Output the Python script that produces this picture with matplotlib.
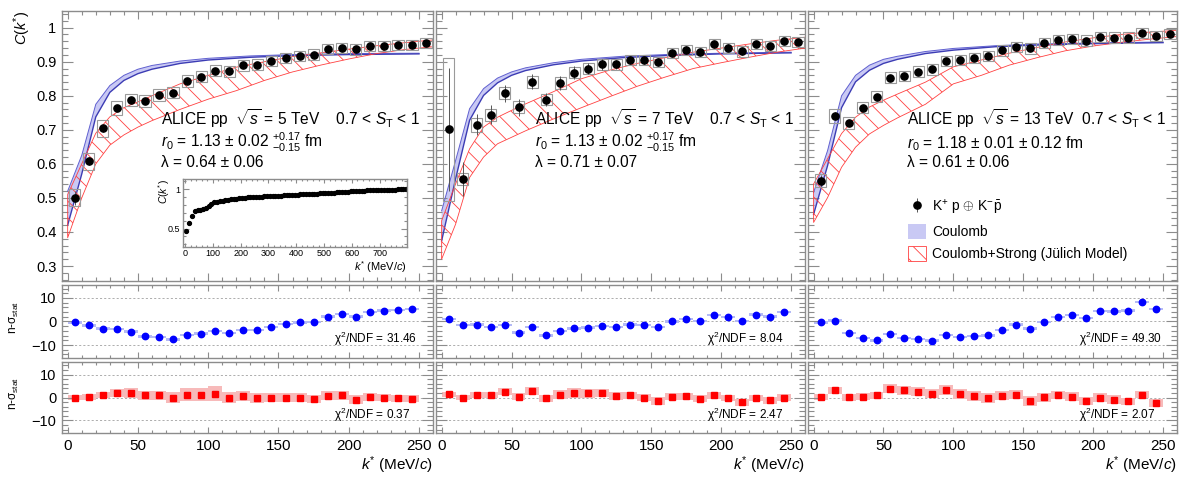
import numpy as np
import matplotlib
matplotlib.use('Agg')
import matplotlib.pyplot as plt
from matplotlib.ticker import MultipleLocator, FuncFormatter
from matplotlib.patches import Patch

plt.rcParams['font.family'] = ['Liberation Sans', 'DejaVu Sans']
plt.rcParams['mathtext.fontset'] = 'custom'
plt.rcParams['mathtext.rm'] = 'Liberation Sans'
plt.rcParams['mathtext.it'] = 'Liberation Sans:italic'
plt.rcParams['mathtext.bf'] = 'Liberation Sans:bold'
plt.rcParams['hatch.linewidth'] = 0.6

# bin centres, MeV/c
kstar = np.arange(5, 260, 10)       # 26 bins of C(k*)
kstar_res = kstar[:25]              # residuals stop at 245
kstar_inset = np.arange(5, 800, 10)

# measured correlation functions
cf_5tev = [0.500, 0.608, 0.705, 0.764, 0.787, 0.784, 0.803, 0.809, 0.843, 0.856, 0.874, 0.872, 0.889,
           0.891, 0.903, 0.912, 0.917, 0.921, 0.937, 0.941, 0.936, 0.946, 0.947, 0.949, 0.950, 0.954]
cf_7tev = [0.701, 0.556, 0.715, 0.744, 0.808, 0.766, 0.841, 0.789, 0.838, 0.868, 0.880, 0.892, 0.892,
           0.905, 0.905, 0.899, 0.925, 0.935, 0.928, 0.951, 0.941, 0.930, 0.951, 0.945, 0.960, 0.959]
cf_13tev = [0.551, 0.741, 0.720, 0.765, 0.797, 0.853, 0.858, 0.870, 0.878, 0.903, 0.904, 0.912, 0.917,
            0.933, 0.944, 0.939, 0.954, 0.963, 0.966, 0.962, 0.972, 0.971, 0.971, 0.984, 0.975, 0.981]

stat_5tev = [0.02, 0.012, 0.01, 0.008, 0.007, 0.007, 0.006, 0.006, 0.006, 0.005, 0.005, 0.005, 0.005,
             0.005, 0.004, 0.004, 0.004, 0.004, 0.004, 0.004, 0.004, 0.004, 0.004, 0.004, 0.004, 0.004]
stat_7tev = [0.18, 0.05, 0.03, 0.028, 0.025, 0.025, 0.022, 0.02, 0.02, 0.018, 0.016, 0.015, 0.014,
             0.013, 0.012, 0.012, 0.011, 0.011, 0.01, 0.01, 0.01, 0.01, 0.009, 0.009, 0.009, 0.009]
stat_13tev = [0.015, 0.01, 0.008, 0.007, 0.006, 0.006, 0.005, 0.005, 0.005, 0.004, 0.004, 0.004, 0.004,
              0.004, 0.004, 0.004, 0.003, 0.003, 0.003, 0.003, 0.003, 0.003, 0.003, 0.003, 0.003, 0.003]

syst_5tev = [0.025, 0.025, 0.025, 0.02, 0.018, 0.018, 0.017, 0.017, 0.017, 0.016, 0.016, 0.016, 0.016,
             0.016, 0.015, 0.015, 0.015, 0.015, 0.015, 0.015, 0.015, 0.015, 0.015, 0.015, 0.015, 0.015]
syst_7tev = [0.21, 0.017, 0.02, 0.018, 0.018, 0.018, 0.017, 0.017, 0.017, 0.016, 0.016, 0.016, 0.016,
             0.016, 0.015, 0.015, 0.015, 0.015, 0.015, 0.015, 0.015, 0.015, 0.015, 0.015, 0.015, 0.015]
syst_13tev = [0.02, 0.02, 0.018, 0.017, 0.016, 0.016, 0.016, 0.016, 0.016, 0.015, 0.015, 0.015, 0.015,
              0.015, 0.015, 0.015, 0.015, 0.015, 0.015, 0.015, 0.015, 0.015, 0.015, 0.015, 0.015, 0.015]

# Coulomb-only model band
coul_k = [0, 10, 20, 30, 40, 50, 60, 80, 100, 130, 160, 200, 250]
coul_hi_5 = [0.52, 0.625, 0.775, 0.83, 0.86, 0.878, 0.889, 0.902, 0.91, 0.917, 0.921, 0.924, 0.925]
coul_lo_5 = [0.42, 0.57, 0.738, 0.81, 0.845, 0.865, 0.878, 0.895, 0.905, 0.913, 0.918, 0.921, 0.923]
coul_hi_7 = [0.462, 0.61, 0.762, 0.821, 0.852, 0.87, 0.882, 0.897, 0.907, 0.916, 0.921, 0.925, 0.928]
coul_lo_7 = [0.374, 0.556, 0.728, 0.801, 0.838, 0.86, 0.874, 0.891, 0.902, 0.912, 0.918, 0.923, 0.926]
coul_hi_13 = [0.516, 0.639, 0.80, 0.86, 0.89, 0.907, 0.916, 0.93, 0.939, 0.947, 0.952, 0.955, 0.958]
coul_lo_13 = [0.452, 0.595, 0.765, 0.841, 0.875, 0.895, 0.907, 0.924, 0.934, 0.944, 0.949, 0.953, 0.956]

# Coulomb + strong (Julich) model band
strong_k = [0, 10, 20, 30, 40, 50, 60, 80, 100, 120, 140, 160, 180, 200, 220, 240, 260]
strong_hi_5 = [0.51, 0.60, 0.69, 0.738, 0.765, 0.782, 0.80, 0.835, 0.86, 0.884, 0.90, 0.915, 0.926,
               0.937, 0.947, 0.956, 0.964]
strong_lo_5 = [0.383, 0.50, 0.60, 0.655, 0.685, 0.708, 0.727, 0.76, 0.79, 0.815, 0.845, 0.87, 0.89,
               0.908, 0.924, 0.936, 0.944]
strong_hi_7 = [0.433, 0.541, 0.644, 0.708, 0.737, 0.757, 0.776, 0.812, 0.85, 0.875, 0.895, 0.912, 0.928,
               0.94, 0.952, 0.963, 0.972]
strong_lo_7 = [0.32, 0.423, 0.56, 0.62, 0.659, 0.678, 0.697, 0.732, 0.765, 0.797, 0.828, 0.855, 0.88,
               0.897, 0.913, 0.928, 0.94]
strong_hi_13 = [0.541, 0.615, 0.689, 0.737, 0.767, 0.787, 0.805, 0.84, 0.885, 0.905, 0.925, 0.942, 0.958,
                0.97, 0.98, 0.987, 0.992]
strong_lo_13 = [0.428, 0.501, 0.59, 0.649, 0.688, 0.713, 0.735, 0.775, 0.835, 0.86, 0.89, 0.912, 0.932,
                0.946, 0.957, 0.966, 0.974]

# n-sigma deviations from the two models
nsig_coul_5 = [-0.4, -1.7, -3.0, -3.3, -4.3, -6.3, -6.6, -7.6, -5.7, -5.1, -4.0, -5.0, -3.6, -3.7, -2.4,
               -1.1, -0.4, -0.3, 2.1, 3.1, 2.1, 4.1, 4.6, 5.0, 5.3]
nsig_coul_7 = [1.0, -1.6, -1.3, -2.4, -1.6, -4.7, -2.4, -5.9, -3.9, -2.9, -2.6, -1.9, -2.4, -1.3, -1.6,
               -2.4, 0.0, 1.0, 0.1, 2.7, 1.9, 0.3, 2.9, 2.1, 4.0]
nsig_coul_13 = [-0.4, 0.4, -5.0, -6.9, -8.0, -5.4, -7.0, -7.4, -8.1, -5.7, -6.6, -6.1, -5.9, -3.6, -1.3,
                -3.0, -0.1, 1.9, 2.7, 1.6, 4.4, 4.3, 4.6, 8.3, 5.4]
nsig_strong_5 = [0.0, 0.3, 0.9, 1.9, 2.0, 0.9, 1.0, 0.0, 1.3, 1.3, 1.7, 0.0, 0.6, -0.3, 0.0, 0.0, 0.0,
                 -0.7, 0.7, 0.9, -0.9, 0.1, 0.0, -0.3, -0.6]
nsig_strong_7 = [1.4, 0.0, 1.3, 1.3, 2.6, 0.4, 3.0, -0.3, 1.3, 2.0, 1.9, 1.9, 0.7, 1.0, 0.0, -1.4, 0.3,
                 0.6, -0.6, 1.0, -0.3, -2.1, -0.1, -1.3, 0.0]
nsig_strong_13 = [0.4, 3.1, 0.1, 0.4, 1.0, 3.9, 3.1, 2.6, 1.7, 3.3, 1.4, 0.6, -0.3, 0.7, 1.3, -1.4, 0.1,
                  1.0, 0.4, -1.4, 0.0, -0.9, -1.6, 1.3, -2.4]
band_strong_5 = [1.2, 1.3, 1.3, 1.8, 2.0, 1.8, 2.0, 2.2, 2.8, 3.0, 3.2, 2.5, 2.3, 2.2, 2.0, 2.0, 2.0, 1.8,
                 2.0, 2.0, 1.8, 1.8, 1.6, 1.6, 1.5]
band_strong_7 = [1.2, 1.3, 1.3, 1.3, 1.5, 1.5, 1.8, 1.6, 1.8, 2.0, 2.0, 1.8, 1.6, 1.6, 1.6, 1.8, 1.5, 1.5,
                 1.5, 1.5, 1.4, 1.5, 1.4, 1.4, 1.4]
band_strong_13 = [1.3, 1.5, 1.5, 1.5, 1.6, 2.0, 2.0, 2.0, 2.0, 2.2, 2.2, 2.2, 2.2, 2.0, 2.0, 2.2, 2.0, 1.8,
                  1.8, 1.8, 1.8, 1.8, 1.6, 1.6, 1.6]

# inset: 5 TeV correlation up to 800 MeV/c
cf_inset = [0.47, 0.57, 0.665, 0.72, 0.735, 0.74, 0.745, 0.765, 0.79, 0.815,
            0.835, 0.842, 0.848, 0.854, 0.86, 0.866, 0.872, 0.877, 0.882, 0.887,
            0.89, 0.893, 0.895, 0.898, 0.9, 0.902, 0.904, 0.906, 0.908, 0.91,
            0.912, 0.914, 0.916, 0.918, 0.92, 0.922, 0.924, 0.926, 0.928, 0.93,
            0.932, 0.934, 0.936, 0.937, 0.939, 0.941, 0.943, 0.945, 0.947, 0.949,
            0.951, 0.953, 0.955, 0.958, 0.96, 0.963, 0.965, 0.968, 0.97, 0.973,
            0.975, 0.977, 0.979, 0.98, 0.982, 0.984, 0.985, 0.987, 0.988, 0.99,
            0.991, 0.992, 0.993, 0.994, 0.995, 0.996, 0.997, 0.998, 0.999, 1.0]

energy_labels = [r'ALICE pp  $\sqrt{s}$ = 5 TeV    0.7 < $S_{\rm T}$ < 1',
                 r'ALICE pp  $\sqrt{s}$ = 7 TeV    0.7 < $S_{\rm T}$ < 1',
                 r'ALICE pp  $\sqrt{s}$ = 13 TeV  0.7 < $S_{\rm T}$ < 1']
r0_labels = [r'$r_{0}$ = 1.13 ± 0.02 ${}^{+0.17}_{-0.15}$ fm',
             r'$r_{0}$ = 1.13 ± 0.02 ${}^{+0.17}_{-0.15}$ fm',
             r'$r_{0}$ = 1.18 ± 0.01 ± 0.12 fm']
lambda_labels = ['λ = 0.64 ± 0.06', 'λ = 0.71 ± 0.07', 'λ = 0.61 ± 0.06']
chi2_coul = ['31.46', '8.04', '49.30']
chi2_strong = ['0.37', '2.47', '2.07']

cf_all = [cf_5tev, cf_7tev, cf_13tev]
stat_all = [stat_5tev, stat_7tev, stat_13tev]
syst_all = [syst_5tev, syst_7tev, syst_13tev]
coul_hi_all = [coul_hi_5, coul_hi_7, coul_hi_13]
coul_lo_all = [coul_lo_5, coul_lo_7, coul_lo_13]
strong_hi_all = [strong_hi_5, strong_hi_7, strong_hi_13]
strong_lo_all = [strong_lo_5, strong_lo_7, strong_lo_13]
nsig_coul_all = [nsig_coul_5, nsig_coul_7, nsig_coul_13]
nsig_strong_all = [nsig_strong_5, nsig_strong_7, nsig_strong_13]
band_strong_all = [band_strong_5, band_strong_7, band_strong_13]

FRAME = '#8c8c8c'
LAV = '#c9c9f4'
CBLUE = '#3c3cb4'
HRED = '#ff4040'


def frame(ax, xlen, ylen):
    for s in ax.spines.values():
        s.set_color(FRAME)
        s.set_linewidth(1.0)
    ax.tick_params(axis='both', which='both', direction='in', top=True, right=True,
                   color=FRAME, width=0.8, labelcolor='black')
    ax.tick_params(axis='x', which='major', length=xlen)
    ax.tick_params(axis='x', which='minor', length=xlen * 0.5)
    ax.tick_params(axis='y', which='major', length=ylen)
    ax.tick_params(axis='y', which='minor', length=ylen * 0.5)


fig = plt.figure(figsize=(11.82, 4.88), dpi=100)
lefts = [0.0525, 0.3689, 0.6836]
widths = [0.3139, 0.3122, 0.3122]
gfmt = FuncFormatter(lambda v, p: '%g' % v)

for i in range(3):
    ax = fig.add_axes([lefts[i], 0.4242, widths[i], 0.5533])
    ax_c = fig.add_axes([lefts[i], 0.2664, widths[i], 0.1496])
    ax_s = fig.add_axes([lefts[i], 0.1127, widths[i], 0.1455])

    # ---- correlation function
    ax.fill_between(coul_k, coul_lo_all[i], coul_hi_all[i], facecolor=LAV, edgecolor='none', zorder=1)
    ax.plot(coul_k, coul_hi_all[i], color='#6060d0', lw=0.7, zorder=2)
    ax.plot(coul_k, coul_lo_all[i], color=CBLUE, lw=1.0, zorder=2)
    ax.fill_between(strong_k, strong_lo_all[i], strong_hi_all[i], facecolor='none', edgecolor=HRED,
                    hatch='\\\\', lw=0.6, zorder=3)
    cf = np.array(cf_all[i])
    sy = np.array(syst_all[i])
    ax.bar(kstar, 2 * sy, width=8, bottom=cf - sy, fill=False, edgecolor='#9a9a9a', lw=0.8, zorder=4)
    h_data = ax.errorbar(kstar, cf, yerr=stat_all[i], fmt='o', color='black', ms=5.2,
                         ecolor='#555555', elinewidth=0.7, capsize=0, zorder=5)
    ax.set_xlim(-4, 260)
    ax.set_ylim(0.256, 1.049)
    ax.xaxis.set_major_locator(MultipleLocator(50))
    ax.xaxis.set_minor_locator(MultipleLocator(10))
    ax.yaxis.set_major_locator(MultipleLocator(0.1))
    ax.yaxis.set_minor_locator(MultipleLocator(0.02))
    ax.yaxis.set_major_formatter(gfmt)
    frame(ax, 6, 8)
    ax.tick_params(labelbottom=False, labelsize=10.5, pad=4)
    if i > 0:
        ax.tick_params(labelleft=False)
    else:
        ax.text(-0.108, 1.0, r'$C$($k^{*}$)', transform=ax.transAxes, rotation=90,
                ha='center', va='top', fontsize=10.5)

    ax.text(0.268, 0.578, energy_labels[i], transform=ax.transAxes, fontsize=11.2, va='baseline')
    ax.text(0.268, 0.493, r0_labels[i], transform=ax.transAxes, fontsize=11.2, va='baseline')
    ax.text(0.268, 0.422, lambda_labels[i], transform=ax.transAxes, fontsize=11.2, va='baseline')

    if i == 2:
        ax.legend([h_data, Patch(facecolor=LAV, edgecolor='none'),
                   Patch(facecolor='none', edgecolor=HRED, hatch='\\\\', lw=0.6)],
                  [r'K$^{+}$ p $\oplus$ K$^{-}\bar{\rm p}$', 'Coulomb', 'Coulomb+Strong (Jülich Model)'],
                  loc='upper left', bbox_to_anchor=(0.245, 0.345), frameon=False, fontsize=10,
                  handlelength=1.3, handleheight=1.3, labelspacing=0.5, handletextpad=0.45,
                  borderpad=0.2)

    # ---- residuals
    for axr, vals, kind in [(ax_c, nsig_coul_all[i], 'c'), (ax_s, nsig_strong_all[i], 's')]:
        vals = np.array(vals)
        for yg in (-10, 0, 10):
            axr.axhline(yg, color='#a0a0a0', lw=0.6, ls=(0, (2.5, 2.5)), zorder=0)
        if kind == 'c':
            axr.bar(kstar_res, 1.0, width=10, bottom=vals - 0.5, color='#b4baf6', lw=0, zorder=1)
            axr.plot(kstar_res, vals, 'o', color='#0000ff', ms=4.6, zorder=3)
            txt = r'χ$^{2}$/NDF = ' + chi2_coul[i]
        else:
            b = np.array(band_strong_all[i])
            axr.bar(kstar_res, 2 * b, width=10, bottom=vals - b, color='#f7baba', lw=0, zorder=1)
            axr.plot(kstar_res, vals, 's', color='#ff0000', ms=4.4, zorder=3)
            txt = r'χ$^{2}$/NDF = ' + chi2_strong[i]
        axr.text(0.733, 0.2, txt, transform=axr.transAxes, fontsize=8.5, va='baseline')
        axr.set_xlim(-4, 260)
        axr.set_ylim(-15.5, 15.5)
        axr.xaxis.set_major_locator(MultipleLocator(50))
        axr.xaxis.set_minor_locator(MultipleLocator(10))
        axr.yaxis.set_major_locator(MultipleLocator(10))
        axr.yaxis.set_minor_locator(MultipleLocator(2))
        frame(axr, 4, 8)
        axr.tick_params(labelsize=10.5, pad=4)
        axr.tick_params(axis='x', labelsize=11, pad=4)
        if kind == 'c':
            axr.tick_params(labelbottom=False)
        if i > 0:
            axr.tick_params(labelleft=False)
        else:
            axr.text(-0.127, 0.55, r'n-σ$_{\rm stat}$', transform=axr.transAxes, rotation=90,
                     ha='center', va='center', fontsize=8.5)
    ax_s.text(1.0, -0.46, r'$k^{*}$ (MeV/$c$)', transform=ax_s.transAxes, ha='right', va='center',
              fontsize=11)

    if i == 0:
        axin = fig.add_axes([0.1551, 0.4945, 0.189, 0.1387])
        axin.plot(kstar_inset, cf_inset, 'o', color='black', ms=2.8)
        axin.set_xlim(-6, 797)
        axin.set_ylim(0.27, 1.13)
        axin.xaxis.set_major_locator(MultipleLocator(100))
        axin.xaxis.set_minor_locator(MultipleLocator(20))
        axin.yaxis.set_major_locator(MultipleLocator(0.5))
        axin.yaxis.set_minor_locator(MultipleLocator(0.1))
        axin.yaxis.set_major_formatter(gfmt)
        frame(axin, 3, 4)
        axin.tick_params(labelsize=6.5, pad=2)
        axin.text(-0.085, 1.0, r'$C$($k^{*}$)', transform=axin.transAxes, rotation=90,
                  ha='center', va='top', fontsize=7.5)
        axin.text(1.0, -0.3, r'$k^{*}$ (MeV/$c$)', transform=axin.transAxes, ha='right', va='center',
                  fontsize=8)

fig.savefig('out.png', dpi=100)
